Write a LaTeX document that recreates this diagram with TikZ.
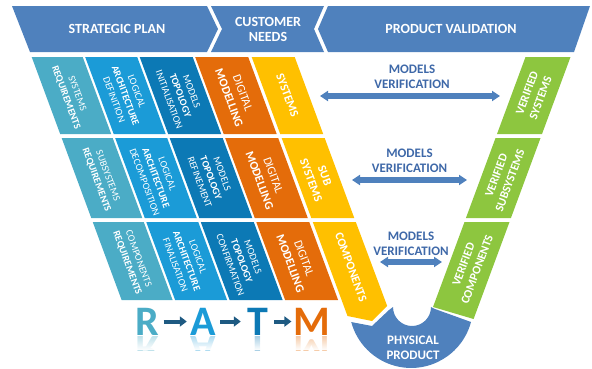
\documentclass[tikz,border=0pt]{standalone}
\usepackage{fontspec}
\setmainfont{Carlito}
\usetikzlibrary{arrows.meta,fadings}
\definecolor{bblue}{RGB}{79,129,189}
\definecolor{vtxt}{RGB}{62,104,168}
\definecolor{cteal}{RGB}{75,172,198}
\definecolor{cbright}{RGB}{27,155,215}
\definecolor{cdark}{RGB}{12,121,181}
\definecolor{corange}{RGB}{228,108,10}
\definecolor{cyellow}{RGB}{255,192,0}
\definecolor{cgreen}{RGB}{141,198,63}
\definecolor{rarrow}{RGB}{30,90,130}
\newcommand\para[5]{\fill[#1] ({31.7+0.37*(#2-57)+#4},#2) -- ({31.7+0.37*(#2-57)+#5},#2) -- ({31.7+0.37*(#3-57)+#5},#3) -- ({31.7+0.37*(#3-57)+#4},#3) -- cycle;}
\newcommand\ptext[7]{\node[#6] (#1) at ({31.7+0.37*((#2+#3)/2-57)+(#4+#5)/2},{(#2+#3)/2}) {#7};}
\newcommand\gpara[2]{\fill[cgreen] ({525.5-0.37*(#1-57)},#1) -- ({570.5-0.37*(#1-57)},#1) -- ({570.5-0.37*(#2-57)},#2) -- ({525.5-0.37*(#2-57)},#2) -- cycle;}
\tikzset{
 ctext/.style={text=white, rotate=-69.7, align=center, inner sep=0pt, font=\fontsize{10}{12}\selectfont},
 btext/.style={text=white, rotate=-69.7, align=center, inner sep=0pt, font=\fontsize{12}{14.5}\selectfont},
 gtext/.style={text=white, rotate=69.7, align=center, inner sep=0pt, font=\bfseries\fontsize{12}{14.5}\selectfont},
 htext/.style={text=white, align=center, inner sep=0pt, font=\bfseries\fontsize{14}{15}\selectfont},
 vtext/.style={text=vtxt, align=center, inner sep=0pt, font=\bfseries\fontsize{13}{15}\selectfont},
 varrow/.style={bblue, line width=6pt, {Triangle[width=10pt,length=8pt]}-{Triangle[width=10pt,length=8pt]}},
 letter/.style={inner sep=0pt, minimum width=30pt, text height=27pt, text depth=0pt, font=\bfseries\fontsize{42}{42}\selectfont},
 rarr/.style={rarrow, line width=4pt, -{Triangle[width=10pt,length=7pt]}, shorten <=1.5pt, shorten >=1.5pt},
}
\begin{document}
\begin{tikzpicture}[x=1pt,y=-1pt]
\useasboundingbox (0,0) rectangle (592,368);
% banner
\fill[bblue] (12,6) -- (207,6) -- (218,29) -- (207,52) -- (30,52) -- cycle;
\fill[bblue] (211,6) -- (324,6) -- (314,29) -- (324,52) -- (211,52) -- (222,29) -- cycle;
\fill[bblue] (328,6) -- (590,6) -- (574,52) -- (328,52) -- (318,29) -- cycle;
\node[htext] (sp) at (117,29) {STRATEGIC PLAN};
\node[htext] (cn) at (268,29) {CUSTOMER\\NEEDS};
\node[htext] (pv) at (451,29) {PRODUCT VALIDATION};
% row 1
\para{cteal}{57}{134}{0}{51}
\para{cbright}{57}{134}{53.5}{105.5}
\para{cdark}{57}{134}{108}{161}
\para{corange}{57}{134}{163.5}{216.5}
\para{cyellow}{57}{134}{220}{263}
% row 2
\para{cteal}{138}{218}{0}{51}
\para{cbright}{138}{218}{53.5}{105.5}
\para{cdark}{138}{218}{108}{161}
\para{corange}{138}{218}{163.5}{216.5}
\para{cyellow}{138}{218}{220}{263}
% row 3
\para{cteal}{222}{300}{0}{51}
\para{cbright}{222}{300}{53.5}{105.5}
\para{cdark}{222}{300}{108}{161}
\para{corange}{222}{300}{163.5}{216.5}
\fill[cyellow] (312.8,222) -- (355.8,222) -- (387.2,306) -- (372,321) -- (347.5,316) -- cycle;
% green
\gpara{57}{134}
\gpara{138}{218}
\fill[cgreen] (464.5,222) -- (509.5,222) -- (473.6,319) -- (433,307) -- cycle;
% physical product
\fill[bblue] (351,322) -- (372,326) -- (389,310) -- (393,307) arc[start angle=180, end angle=360, radius=19pt] -- (435,309) -- (471,322) arc[start angle=-15, end angle=-165, radius=62pt] -- cycle;
\node[htext, font=\bfseries\fontsize{13}{15}\selectfont] (pp) at (413,347.5) {PHYSICAL\\PRODUCT};
% column texts row 1
\ptext{a1}{57}{134}{0}{51}{ctext}{SYSTEMS\\\textbf{REQUIREMENTS}}
\ptext{b1}{57}{134}{53.5}{105.5}{ctext}{LOGICAL\\\textbf{ARCHITECTURE}\\DEFINITION}
\ptext{c1}{57}{134}{108}{161}{ctext}{MODELS\\\textbf{TOPOLOGY}\\INITIALISATION}
\ptext{d1}{57}{134}{163.5}{216.5}{btext}{DIGITAL\\\textbf{MODELLING}}
\ptext{e1}{57}{134}{220}{263}{btext}{\textbf{SYSTEMS}}
% row 2
\ptext{a2}{138}{218}{0}{51}{ctext}{SUBSYSTEMS\\\textbf{REQUIREMENTS}}
\ptext{b2}{138}{218}{53.5}{105.5}{ctext}{LOGICAL\\\textbf{ARCHITECTURE}\\DECOMPOSITION}
\ptext{c2}{138}{218}{108}{161}{ctext}{MODELS\\\textbf{TOPOLOGY}\\REFINEMENT}
\ptext{d2}{138}{218}{163.5}{216.5}{btext}{DIGITAL\\\textbf{MODELLING}}
\ptext{e2}{138}{218}{220}{263}{btext}{\textbf{SUB}\\\textbf{SYSTEMS}}
% row 3
\ptext{a3}{222}{300}{0}{51}{ctext}{COMPONENTS\\\textbf{REQUIREMENTS}}
\ptext{b3}{222}{300}{53.5}{105.5}{ctext}{LOGICAL\\\textbf{ARCHITECTURE}\\FINALISATION}
\ptext{c3}{222}{300}{108}{161}{ctext}{MODELS\\\textbf{TOPOLOGY}\\CONFIRMATION}
\ptext{d3}{222}{300}{163.5}{216.5}{btext}{DIGITAL\\\textbf{MODELLING}}
\node[btext] (e3) at (351,267) {\textbf{COMPONENTS}};
% green texts
\node[gtext] (g1) at (533.8,95.5) {VERIFIED\\SYSTEMS};
\node[gtext] (g2) at (503.2,178) {VERIFIED\\SUBSYSTEMS};
\node[gtext] (g3) at (470.3,267) {VERIFIED\\COMPONENTS};
% verification arrows
\coordinate (v1l) at (320,96); \coordinate (v1r) at (500,96);
\coordinate (v2l) at (352,180); \coordinate (v2r) at (467,180);
\coordinate (v3l) at (380,262); \coordinate (v3r) at (442,262);
\draw[varrow] (v1l) -- (v1r);
\draw[varrow] (v2l) -- (v2r);
\draw[varrow] (v3l) -- (v3r);
\node[vtext] (m1) at (412,76.5) {MODELS\\VERIFICATION};
\node[vtext] (m2) at (409.5,161) {MODELS\\VERIFICATION};
\node[vtext] (m3) at (411,243.5) {MODELS\\VERIFICATION};
% RATM
\node[letter, text=cteal] (R) at (147,321.5) {R};
\node[letter, text=cbright] (A) at (203.5,321.5) {A};
\node[letter, text=cdark] (T) at (257.5,321.5) {T};
\node[letter, text=corange] (M) at (311.5,321.5) {M};
\draw[rarr] (R) -- (A);
\draw[rarr] (A) -- (T);
\draw[rarr] (T) -- (M);
\begin{scope}
\clip (120,336) rectangle (340,350);
\node[letter, yscale=-1, text=cteal, opacity=0.35] (Rr) at (147,349.5) {R};
\node[letter, yscale=-1, text=cbright, opacity=0.35] (Ar) at (203.5,349.5) {A};
\node[letter, yscale=-1, text=cdark, opacity=0.35] (Tr) at (257.5,349.5) {T};
\node[letter, yscale=-1, text=corange, opacity=0.35] (Mr) at (311.5,349.5) {M};
\fill[white, path fading=north] (120,336) rectangle (340,350);
\end{scope}
\end{tikzpicture}
\end{document}
